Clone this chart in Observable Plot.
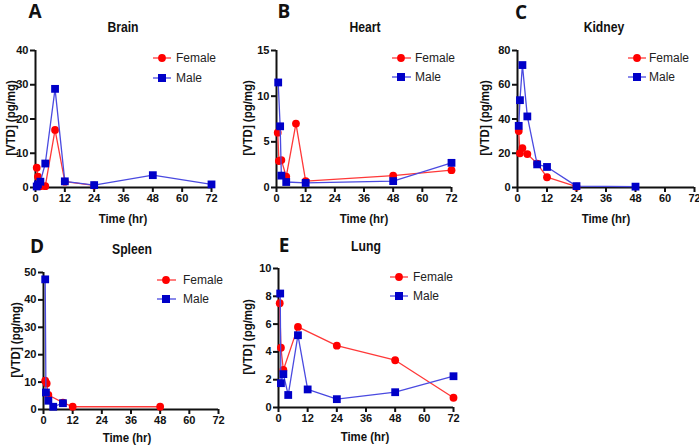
<!DOCTYPE html>
<html>
<head>
<meta charset="utf-8">
<script src="https://cdn.jsdelivr.net/npm/d3@7"></script>
<script src="https://cdn.jsdelivr.net/npm/@observablehq/plot@0.6"></script>
<style>
  html, body { margin: 0; padding: 0; background: #fff; }
  #wrap { position: relative; width: 699px; height: 446px; overflow: hidden; font-family: "Liberation Sans", Arial, sans-serif; color: #111; }
  .abs { position: absolute; white-space: nowrap; line-height: 1; transform: translate(-50%, -50%); }
  .letter { font-family: "Open Sans", "Liberation Sans", sans-serif; font-weight: 700; font-size: 19px; line-height: 19px; }
  .title { font-weight: 700; font-size: 14px; transform: translate(-50%, -50%) scaleX(0.87); }
  .xlab { font-weight: 700; font-size: 13px; transform: translate(-50%, -50%) scaleX(0.88); }
  .ylab { font-weight: 700; font-size: 13px; transform: translate(-50%, -50%) rotate(-90deg) scaleX(0.88); }
  .panel { position: absolute; }
  .panel svg { overflow: visible; }
  .legend { position: absolute; left: 0; top: 0; overflow: visible; }
</style>
</head>
<body>
<div id="wrap"></div>
<script>
// ---- data (time in hr, [VTD] in pg/mg) ----
const xTicks = [0, 12, 24, 36, 48, 60, 72];

const brainFemaleT = [0.5, 1, 2, 4, 8, 12, 24];
const brainFemaleV = [5.8, 3.2, 0.4, 0.4, 16.8, 1.7, 0.6];
const brainMaleT   = [0.5, 1, 2, 4, 8, 12, 24, 48, 72];
const brainMaleV   = [0.3, 0.9, 1.7, 7.0, 28.8, 1.8, 0.7, 3.6, 0.9];
const brainYTicks  = [0, 10, 20, 30, 40];

const heartFemaleT = [0.5, 1, 2, 4, 8, 12, 48, 72];
const heartFemaleV = [6.0, 2.9, 3.0, 1.2, 7.0, 0.7, 1.3, 1.9];
const heartMaleT   = [0.7, 1.5, 2, 4, 12, 48, 72];
const heartMaleV   = [11.5, 6.7, 1.3, 0.6, 0.5, 0.7, 2.7];
const heartYTicks  = [0, 5, 10, 15];

const kidneyFemaleT = [0.5, 1, 2, 4, 8, 12, 24];
const kidneyFemaleV = [33, 20, 23, 19.5, 14, 6, 0.5];
const kidneyMaleT   = [0.5, 1, 2, 4, 8, 12, 24, 48];
const kidneyMaleV   = [36, 51, 71.5, 41.5, 13.5, 12, 0.8, 0.5];
const kidneyYTicks  = [0, 20, 40, 60, 80];

const spleenFemaleT = [0.7, 1.3, 2, 8, 12, 48];
const spleenFemaleV = [10.5, 9.5, 5.3, 2.5, 1.0, 1.0];
const spleenMaleT   = [0.7, 1, 2, 4, 8];
const spleenMaleV   = [47.5, 6.2, 3.2, 1.0, 2.3];
const spleenYTicks  = [0, 10, 20, 30, 40, 50];

const lungFemaleT = [0.5, 1, 2, 8, 24, 48, 72];
const lungFemaleV = [7.5, 4.3, 2.7, 5.8, 4.45, 3.4, 0.7];
const lungMaleT   = [0.7, 1, 2, 4, 8, 12, 24, 48, 72];
const lungMaleV   = [8.2, 1.75, 2.4, 0.9, 5.2, 1.3, 0.6, 1.1, 2.25];
const lungYTicks  = [0, 2, 4, 6, 8, 10];

const seriesNames = ["Female", "Male"];
const panelLetters = ["A", "B", "C", "D", "E"];
const organNames = ["Brain", "Heart", "Kidney", "Spleen", "Lung"];
const xLabel = "Time (hr)";
const yLabel = "[VTD] (pg/mg)";

// ---- style ----
const femaleLine = "#ff3838", femaleDot = "#ff0000";
const maleLine = "#4a4ae0", maleDot = "#0000c8";

const toRows = (T, V) => T.map((t, i) => ({t, v: V[i]}));

const panels = [
  {fT: brainFemaleT, fV: brainFemaleV, mT: brainMaleT, mV: brainMaleV, yTicks: brainYTicks,
   left: 0, top: 0, mL: 35, pw: 176, mT0: 50, ph: 137,
   letter: [35, 11], title: [123, 27], xl: [123, 218], yl: [10, 118], leg: [153, 171, 162, 176, 58, 78]},
  {fT: heartFemaleT, fV: heartFemaleV, mT: heartMaleT, mV: heartMaleV, yTicks: heartYTicks,
   left: 233, top: 0, mL: 43, pw: 175, mT0: 50, ph: 137,
   letter: [284, 11], title: [365, 27], xl: [364, 218], yl: [247, 118], leg: [392, 411, 401, 415, 58, 77]},
  {fT: kidneyFemaleT, fV: kidneyFemaleV, mT: kidneyMaleT, mV: kidneyMaleV, yTicks: kidneyYTicks,
   left: 466, top: 0, mL: 51, pw: 177, mT0: 50, ph: 137,
   letter: [521, 12], title: [604, 27], xl: [606, 218], yl: [484, 118], leg: [628, 646, 637, 649, 58, 77]},
  {fT: spleenFemaleT, fV: spleenFemaleV, mT: spleenMaleT, mV: spleenMaleV, yTicks: spleenYTicks,
   left: 0, top: 210, mL: 43, pw: 175, mT0: 62, ph: 137,
   letter: [37, 246], title: [132, 249], xl: [127, 437], yl: [15, 340], leg: [157, 176, 166, 183, 280, 299]},
  {fT: lungFemaleT, fV: lungFemaleV, mT: lungMaleT, mV: lungMaleV, yTicks: lungYTicks,
   left: 233, top: 210, mL: 45, pw: 175, mT0: 58, ph: 139,
   letter: [284, 245], title: [366, 246], xl: [365, 436], yl: [247, 337], leg: [390, 408, 399, 413, 277, 296]}
];

const wrap = document.getElementById("wrap");

function addText(cls, txt, x, y) {
  const d = document.createElement("div");
  d.className = "abs " + cls;
  d.textContent = txt;
  d.style.left = x + "px";
  d.style.top = y + "px";
  wrap.appendChild(d);
}

panels.forEach((p, i) => {
  const female = toRows(p.fT, p.fV);
  const male = toRows(p.mT, p.mV);
  const yMax = p.yTicks[p.yTicks.length - 1];
  const width = 233;
  const mR = width - p.mL - p.pw;
  const mB = 22;
  const height = p.mT0 + p.ph + mB;

  const chart = Plot.plot({
    width, height,
    marginLeft: p.mL, marginRight: mR, marginTop: p.mT0, marginBottom: mB,
    x: {domain: [0, 72], label: null},
    y: {domain: [0, yMax], label: null},
    style: {fontFamily: "'Liberation Sans', Arial, sans-serif", fontSize: "11px", fontWeight: "bold", color: "#111", background: "transparent", overflow: "visible"},
    marks: [
      Plot.axisX({ticks: xTicks, tickSize: 5, tickPadding: 2, strokeWidth: 2, label: null}),
      Plot.axisY({ticks: p.yTicks, tickSize: 5, tickPadding: 2, strokeWidth: 2, label: null}),
      Plot.ruleY([0], {stroke: "#111", strokeWidth: 2}),
      Plot.ruleX([0], {stroke: "#111", strokeWidth: 2}),
      Plot.line(female, {x: "t", y: "v", stroke: femaleLine, strokeWidth: 1.3}),
      Plot.dot(female, {x: "t", y: "v", fill: femaleDot, r: 3.9, symbol: "circle"}),
      Plot.line(male, {x: "t", y: "v", stroke: maleLine, strokeWidth: 1.3}),
      Plot.dot(male, {x: "t", y: "v", fill: maleDot, r: 4.4, symbol: "square"})
    ]
  });
  const holder = document.createElement("div");
  holder.className = "panel";
  holder.style.left = p.left + "px";
  holder.style.top = p.top + "px";
  holder.appendChild(chart);
  wrap.appendChild(holder);

  addText("letter", panelLetters[i], p.letter[0], p.letter[1]);
  addText("title", organNames[i], p.title[0], p.title[1]);
  addText("xlab", xLabel, p.xl[0], p.xl[1]);
  addText("ylab", yLabel, p.yl[0], p.yl[1]);

  // legend
  const [lx1, lx2, mx, tx, y1, y2] = p.leg;
  const svg = d3.select(wrap).append("svg").attr("class", "legend").attr("width", 699).attr("height", 446);
  const items = [
    {name: seriesNames[0], y: y1, line: femaleLine, fill: femaleDot, sym: "circle"},
    {name: seriesNames[1], y: y2, line: maleLine, fill: maleDot, sym: "square"}
  ];
  items.forEach(it => {
    svg.append("line").attr("x1", lx1).attr("x2", lx2).attr("y1", it.y).attr("y2", it.y)
      .attr("stroke", it.line).attr("stroke-width", 1.3);
    if (it.sym === "circle") {
      svg.append("circle").attr("cx", mx).attr("cy", it.y).attr("r", 3.9).attr("fill", it.fill);
    } else {
      svg.append("rect").attr("x", mx - 4).attr("y", it.y - 4).attr("width", 8).attr("height", 8).attr("fill", it.fill);
    }
    svg.append("text").attr("x", tx).attr("y", it.y).attr("dy", "0.35em")
      .attr("font-family", "'Liberation Sans', Arial, sans-serif").attr("font-size", 12).attr("fill", "#222")
      .text(it.name);
  });
});
</script>
</body>
</html>
